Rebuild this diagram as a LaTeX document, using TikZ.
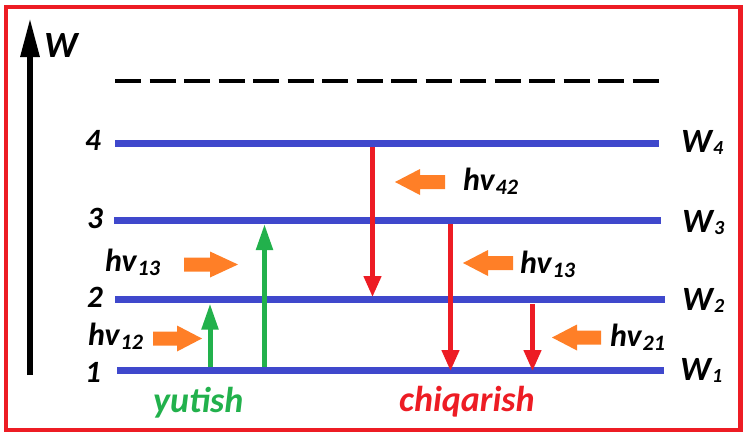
\documentclass[tikz,border=0pt]{standalone}
\usepackage{fontspec}
\usepackage{graphicx}
\setmainfont{Carlito}
\usetikzlibrary{arrows.meta}
\definecolor{pred}{RGB}{237,28,36}
\definecolor{pblue}{RGB}{63,72,204}
\definecolor{pgreen}{RGB}{34,177,76}
\definecolor{porange}{RGB}{255,127,39}
\newcommand{\subh}[1]{\hspace{1pt}\raisebox{-4pt}{\fontsize{22}{23}\selectfont #1}}
\newcommand{\subw}[1]{\hspace{1pt}\raisebox{-2pt}{\fontsize{20}{21}\selectfont #1}}
\newcommand{\blockarrow}[4]{%
  \fill[porange] (#1,#4-7) -- (#2,#4-7) -- (#2,#4-13) -- (#3,#4) -- (#2,#4+13) -- (#2,#4+7) -- (#1,#4+7) -- cycle;}
\begin{document}
\begin{tikzpicture}[x=1pt,y=-1pt,
  lbl/.style={font=\fontsize{32}{34}\selectfont\bfseries\itshape, inner sep=0pt, anchor=base west},
  numlbl/.style={lbl, font=\fontsize{31}{33}\selectfont\bfseries\itshape},
  wlbl/.style={lbl, font=\fontsize{34}{36}\selectfont\bfseries\itshape},
  caption/.style={lbl, font=\fontsize{36}{38}\selectfont\bfseries\itshape},
  levelline/.style={pblue, line width=7pt},
  garrow/.style={pgreen, line width=5pt, -{Triangle[length=26pt,width=16pt]}},
  rarrow/.style={pred, line width=4.5pt, -{Triangle[length=21pt,width=17pt]}}]
\useasboundingbox (0,0) rectangle (748,437);
\draw[pred, line width=4.5pt] (6,7) rectangle (740.5,430);
% axis
\coordinate (axb) at (30,375);
\coordinate (axt) at (30,18);
\draw[line width=6pt, -{Triangle[length=39pt,width=18pt]}] (axb) -- (axt);
\node[lbl, font=\fontsize{37}{40}\selectfont\bfseries\itshape] (wax) at (44,57) {W};
% dashed
\coordinate (da) at (115,81);
\coordinate (db) at (660,81);
\draw[line width=4pt, dash pattern=on 26pt off 8.5pt] (da) -- (db);
% levels
\coordinate (L4a) at (115,143);   \coordinate (L4b) at (659,143);
\coordinate (L3a) at (114,220.5); \coordinate (L3b) at (661,220.5);
\coordinate (L2a) at (115,299.5); \coordinate (L2b) at (665,299.5);
\coordinate (L1a) at (117,370);   \coordinate (L1b) at (664,370);
\draw[levelline] (L4a) -- (L4b);
\draw[levelline] (L3a) -- (L3b);
\draw[levelline] (L2a) -- (L2b);
\draw[levelline] (L1a) -- (L1b);
% level numbers
\node[numlbl] (n4) at (85,150) {4};
\node[numlbl] (n3) at (87,228) {3};
\node[numlbl] (n2) at (87,307) {2};
\node[numlbl] (n1) at (85,382) {1};
% W labels
\node[wlbl] (w4) at (681,152) {W\subw{4}};
\node[wlbl] (w3) at (682,232) {W\subw{3}};
\node[wlbl] (w2) at (682,310) {W\subw{2}};
\node[wlbl] (w1) at (680,380) {W\subw{1}};
% green arrows
\coordinate (g1a) at (210,367);   \coordinate (g1b) at (210,303.5);
\coordinate (g2a) at (264.5,367); \coordinate (g2b) at (264.5,224);
\draw[garrow] (g1a) -- (g1b);
\draw[garrow] (g2a) -- (g2b);
% red arrows
\coordinate (r1a) at (372.5,147); \coordinate (r1b) at (372.5,297);
\coordinate (r2a) at (450.5,224); \coordinate (r2b) at (450.5,371);
\coordinate (r3a) at (532.5,304); \coordinate (r3b) at (532.5,371);
\draw[rarrow] (r1a) -- (r1b);
\draw[rarrow] (r2a) -- (r2b);
\draw[rarrow] (r3a) -- (r3b);
% orange photon arrows
\blockarrow{184}{210}{238}{264.5}
\blockarrow{153}{177}{202}{338.5}
\blockarrow{445}{420}{395}{182}
\blockarrow{513}{488}{463}{263}
\blockarrow{601}{577}{552}{337.5}
% hv labels
\node[lbl] (hv13a) at (105,271) {hv\subh{13}};
\node[lbl] (hv12) at (88,345) {hv\subh{12}};
\node[lbl] (hv42) at (463,190) {hv\subh{42}};
\node[lbl] (hv13b) at (520,273) {hv\subh{13}};
\node[lbl] (hv21) at (610,346) {hv\subh{21}};
% captions
\node[caption, text=pgreen] (yut) at (153,412) {yutish};
\node[caption, text=pred] (chi) at (399,411) {chiqarish};
\end{tikzpicture}
\end{document}
